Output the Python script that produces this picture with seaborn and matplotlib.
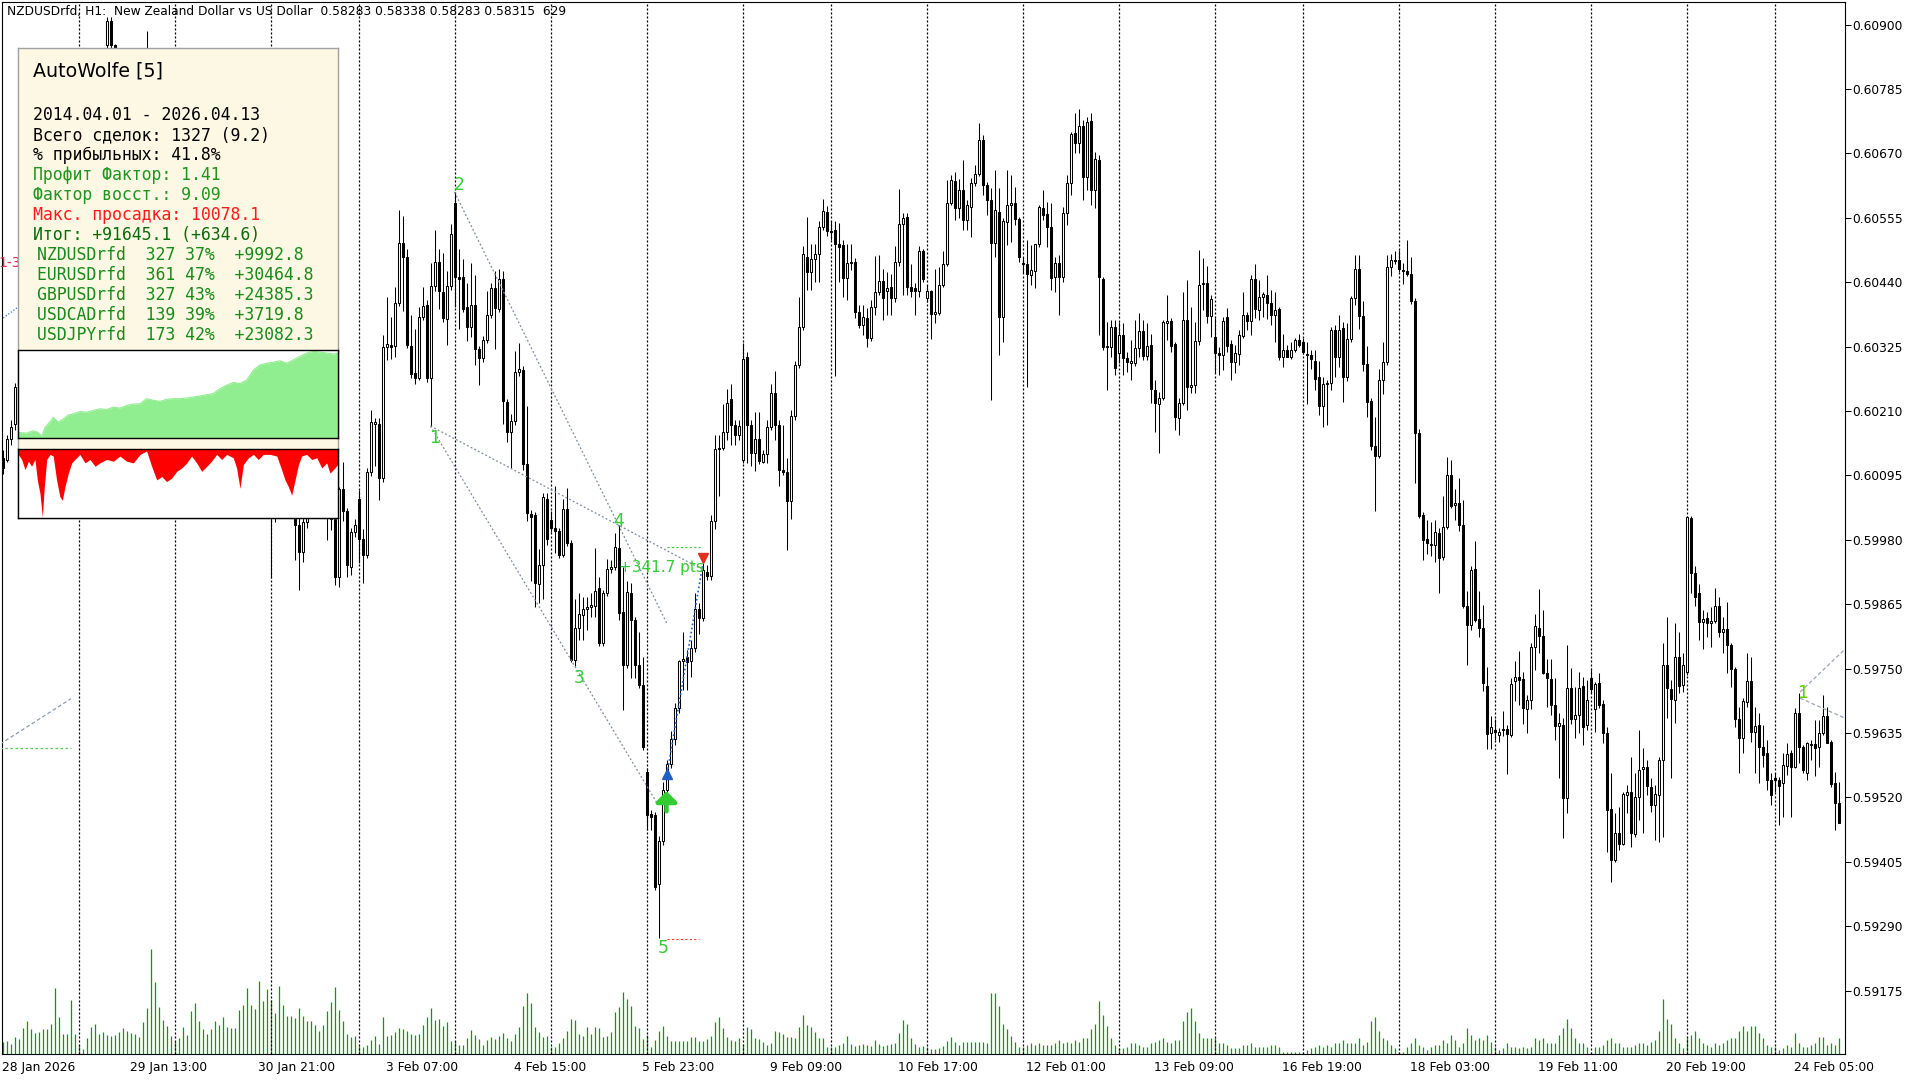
import numpy as np
import pandas as pd
import matplotlib
matplotlib.use("Agg")
import matplotlib.pyplot as plt
import seaborn as sns
from datetime import datetime, timedelta

# ---------------- DATA (prices in points, 1 point = 0.00001) ----------------
open_pts = [
60126,60122,60160,60187,60253,60301,60355,60408,60444,60498,
60533,60515,60569,60605,60640,60658,60631,60676,60712,60694,
60730,60765,60774,60801,60819,60833,60864,60906,60864,60855,
60837,60801,60819,60783,60792,60819,60837,60846,60810,60765,
60730,60694,60712,60658,60623,60587,60605,60551,60498,60515,
60462,60408,60426,60372,60337,60355,60301,60247,60265,60212,
60176,60194,60140,60105,60122,60087,60069,60051,60024,60051,
60069,60060,60087,60051,60006,59958,60012,60033,60051,60060,
60042,60051,60030,60017,59913,60071,60031,59931,59994,60053,
59981,59953,60101,60187,60187,60090,60324,60328,60326,60403,
60510,60485,60326,60278,60269,60378,60399,60269,60433,60476,
60422,60374,60433,60581,60449,60449,60396,60360,60399,60321,
60305,60337,60381,60430,60392,60446,60226,60172,60192,60280,
60283,60115,60026,60024,59901,59935,60053,60015,60001,59996,
59953,60035,59974,59765,59822,59846,59856,59860,59862,59894,
59796,59885,59928,59931,59965,59851,59756,59885,59837,59756,
59721,59565,59490,59488,59365,59442,59533,59580,59624,59680,
59763,59771,59763,59787,59856,59840,59922,59915,60013,60142,
60144,60172,60231,60185,60167,60122,60306,60185,60135,60160,
60119,60133,60181,60242,60185,60105,60101,60049,60201,60292,
60360,60485,60458,60481,60490,60539,60565,60531,60533,60508,
60506,60447,60474,60476,60387,60364,60376,60340,60396,60422,
60442,60424,60431,60412,60476,60544,60556,60431,60430,60424,
60496,60412,60424,60383,60385,60435,60473,60581,60621,60573,
60605,60551,60574,60617,60633,60694,60614,60587,60510,60565,
60378,60548,60578,60581,60553,60474,60473,60453,60460,60508,
60573,60562,60539,60449,60474,60449,60564,60617,60706,60689,
60719,60628,60728,60605,60658,60446,60326,60324,60360,60314,
60346,60305,60296,60296,60322,60353,60308,60328,60247,60222,
60233,60367,60371,60330,60197,60224,60372,60253,60256,60335,
60437,60439,60380,60342,60314,60310,60378,60330,60297,60312,
60344,60381,60371,60446,60390,60414,60417,60403,60381,60392,
60306,60319,60306,60319,60337,60333,60312,60310,60299,60271,
60219,60258,60260,60355,60306,60358,60271,60339,60412,60464,
60380,60294,60228,60147,60130,60265,60297,60467,60480,60480,
60462,60460,60455,60406,60171,60024,59981,59972,59971,59992,
59949,60003,60096,60042,60046,60006,59862,59828,59928,59838,
59822,59719,59635,59640,59631,59640,59642,59631,59728,59735,
59731,59678,59694,59788,59822,59808,59742,59731,59685,59647,
59649,59519,59715,59660,59667,59719,59649,59733,59678,59724,
59687,59635,59499,59408,59456,59437,59524,59529,59454,59521,
59571,59574,59538,59506,59524,59587,59756,59713,59694,59771,
59721,59744,60019,59921,59885,59833,59840,59831,59835,59862,
59815,59821,59792,59749,59660,59626,59690,59728,59637,59649,
59610,59599,59551,59555,59551,59546,59576,59599,59574,59671,
59610,59563,59613,59615,59610,59635,59665,59619,59546,59510]

high_pts = [
60140,60167,60194,60260,60315,60369,60422,60458,60512,60548,
60548,60583,60619,60655,60673,60673,60690,60726,60726,60744,
60780,60789,60815,60833,60844,60855,60914,60914,60865,60855,
60846,60833,60833,60805,60833,60846,60889,60851,60823,60780,
60744,60726,60726,60673,60637,60619,60619,60565,60530,60530,
60476,60440,60440,60387,60369,60369,60315,60280,60280,60226,
60208,60208,60155,60137,60137,60101,60083,60065,60065,60083,
60083,60101,60101,60065,60019,60024,60042,60060,60072,60072,
60065,60060,60042,60024,60074,60119,60037,60001,60017,60069,
59999,60108,60212,60197,60197,60346,60414,60378,60431,60569,
60558,60499,60381,60356,60396,60431,60408,60474,60533,60499,
60492,60460,60544,60601,60499,60481,60439,60474,60453,60326,
60344,60424,60439,60460,60464,60460,60231,60205,60317,60331,
60290,60219,60033,60030,59963,60063,60063,60031,60076,60001,
60053,60072,59980,59874,59885,59878,59878,59885,59965,59913,
59890,59946,59944,59992,60006,59931,59906,59903,59842,59815,
59771,59572,59497,59494,59451,59547,59587,59638,59688,59765,
59815,59783,59801,59885,59867,59939,59935,60024,60167,60167,
60222,60249,60258,60194,60194,60331,60315,60194,60208,60208,
60140,60194,60258,60281,60194,60185,60126,60212,60299,60414,
60505,60556,60508,60508,60549,60589,60576,60549,60549,60546,
60515,60508,60508,60483,60399,60399,60394,60408,60487,60489,
60464,60458,60455,60505,60606,60564,60564,60473,60439,60505,
60499,60435,60426,60464,60467,60496,60623,60631,60637,60624,
60658,60587,60626,60649,60724,60703,60619,60608,60640,60608,
60555,60640,60631,60610,60556,60485,60515,60506,60508,60578,
60605,60583,60581,60485,60489,60574,60631,60708,60742,60749,
60730,60735,60742,60673,60667,60449,60369,60372,60372,60369,
60367,60315,60337,60372,60385,60372,60367,60347,60265,60244,
60372,60417,60376,60333,60233,60422,60444,60396,60369,60498,
60483,60469,60417,60376,60324,60378,60394,60337,60328,60355,
60422,60387,60453,60473,60444,60422,60453,60426,60422,60396,
60347,60328,60333,60340,60347,60340,60333,60319,60319,60299,
60271,60265,60360,60364,60381,60369,60367,60415,60489,60489,
60406,60326,60233,60199,60285,60333,60489,60490,60496,60497,
60474,60515,60485,60412,60178,60030,60015,60012,60015,60001,
60058,60128,60122,60071,60090,60051,59888,59933,59978,59888,
59863,59753,59665,59660,59644,59674,59649,59733,59763,59781,
59744,59703,59796,59847,59892,59855,59767,59767,59733,59671,
59662,59792,59751,59717,59744,59735,59730,59751,59726,59742,
59694,59646,59563,59492,59503,59530,59542,59592,59563,59640,
59608,59587,59555,59542,59592,59796,59842,59730,59831,59815,
59778,60022,60022,59933,59901,59855,59851,59860,59894,59878,
59842,59869,59796,59753,59681,59697,59778,59771,59681,59671,
59649,59622,59563,59563,59556,59599,59617,59605,59680,59706,
59613,59619,59622,59658,59658,59703,59681,59622,59565,59547]

low_pts = [
60097,60119,60149,60176,60239,60287,60340,60394,60430,60483,
60501,60501,60555,60590,60626,60617,60617,60662,60680,60680,
60715,60751,60760,60787,60805,60819,60855,60855,60837,60823,
60787,60787,60769,60769,60780,60805,60823,60792,60751,60715,
60680,60680,60644,60608,60573,60573,60537,60483,60483,60447,
60394,60394,60358,60322,60322,60287,60233,60233,60197,60162,
60162,60126,60090,60090,60072,60055,60037,59912,60012,60037,
60042,60046,60033,59944,59890,59940,60001,60022,60040,60030,
60030,59980,59997,59899,59896,60013,59913,59917,59985,59939,
59903,59947,60094,60112,60051,60083,60301,60303,60306,60397,
60389,60322,60269,60258,60265,60372,60262,60183,60424,60392,
60369,60328,60426,60396,60356,60387,60335,60342,60292,60256,
60297,60331,60376,60321,60387,60187,60155,60108,60185,60272,
60105,60013,59906,59860,59867,59874,59971,59994,59956,59947,
59949,59969,59762,59755,59801,59801,59819,59842,59842,59790,
59790,59880,59921,59926,59837,59676,59751,59733,59733,59715,
59605,59462,59462,59354,59269,59435,59529,59572,59613,59671,
59712,59712,59735,59780,59812,59835,59908,59908,59999,60058,
60140,60158,60149,60149,60158,60117,60117,60112,60103,60115,
60117,60117,60176,60158,60076,60096,59962,60017,60194,60287,
60355,60426,60426,60440,60440,60533,60523,60515,60272,60440,
60414,60408,60462,60376,60358,60346,60324,60335,60381,60417,
60372,60381,60381,60405,60469,60417,60417,60414,60381,60414,
60440,60405,60339,60367,60381,60431,60469,60578,60551,60555,
60533,60533,60521,60612,60630,60596,60560,60230,60485,60310,
60333,60506,60512,60542,60476,60456,60253,60435,60430,60503,
60551,60503,60426,60422,60381,60440,60542,60596,60671,60671,
60587,60605,60578,60573,60346,60319,60247,60306,60274,60296,
60274,60280,60265,60290,60306,60301,60301,60224,60172,60135,
60230,60337,60315,60176,60167,60221,60212,60242,60242,60328,
60390,60367,60342,60278,60274,60283,60315,60265,60278,60292,
60340,60355,60346,60376,60372,60378,60374,60364,60333,60301,
60289,60306,60303,60315,60324,60312,60222,60285,60247,60203,
60181,60185,60247,60271,60289,60226,60264,60333,60399,60356,
60281,60199,60140,60031,60126,60240,60292,60451,60473,60458,
60437,60451,60401,60081,60019,59944,59955,59951,59940,59885,
59944,59999,60037,60015,59996,59858,59756,59819,59833,59806,
59710,59606,59606,59622,59619,59629,59562,59628,59692,59685,
59651,59635,59678,59747,59778,59740,59681,59667,59622,59554,
59447,59492,59651,59626,59635,59613,59640,59706,59637,59680,
59617,59422,59369,59404,59426,59435,59492,59431,59449,59479,
59456,59524,59494,59444,59440,59449,59662,59554,59653,59706,
59708,59738,59885,59862,59801,59785,59806,59788,59831,59806,
59778,59742,59717,59646,59563,59599,59681,59619,59563,59546,
59574,59533,59506,59529,59471,59485,59560,59485,59572,59581,
59563,59551,59587,59558,59574,59631,59617,59538,59462,59474]

close_pts = [
60108,60160,60181,60253,60301,60355,60408,60444,60498,60533,
60515,60569,60605,60640,60658,60631,60676,60712,60694,60730,
60765,60774,60801,60819,60833,60851,60906,60864,60855,60837,
60801,60819,60783,60792,60819,60837,60846,60810,60765,60730,
60694,60712,60658,60623,60587,60605,60551,60498,60515,60462,
60408,60426,60372,60337,60355,60301,60247,60265,60212,60176,
60194,60140,60105,60122,60087,60069,60051,60024,60051,60069,
60060,60087,60051,60006,59958,60012,60033,60051,60060,60042,
60051,60030,60017,59913,60071,60031,59935,59994,60006,59981,
59953,60101,60190,60190,60090,60324,60330,60324,60403,60510,
60485,60328,60276,60269,60378,60397,60269,60433,60476,60424,
60376,60433,60526,60449,60446,60392,60360,60399,60321,60305,
60337,60381,60430,60394,60446,60228,60172,60192,60280,60285,
60115,60028,60021,59903,59935,60056,59981,60001,59996,59953,
60035,59974,59765,59822,59847,59856,59860,59863,59889,59796,
59885,59928,59931,59967,59849,59756,59887,59837,59756,59721,
59610,59488,59485,59360,59442,59533,59580,59624,59680,59763,
59767,59762,59787,59856,59840,59926,59915,60013,60142,60144,
60172,60224,60185,60167,60183,60303,60185,60135,60160,60121,
60133,60181,60242,60185,60105,60101,60049,60201,60292,60360,
60490,60458,60481,60490,60539,60567,60531,60530,60508,60503,
60447,60474,60476,60387,60364,60378,60340,60396,60422,60442,
60412,60430,60412,60476,60544,60555,60431,60424,60424,60496,
60446,60424,60383,60387,60435,60473,60581,60623,60573,60605,
60551,60578,60617,60633,60694,60614,60587,60510,60569,60378,
60549,60578,60581,60553,60485,60473,60455,60462,60508,60574,
60560,60539,60447,60474,60449,60564,60617,60705,60689,60719,
60628,60726,60605,60660,60449,60324,60324,60360,60287,60346,
60305,60297,60299,60322,60353,60308,60326,60249,60224,60233,
60369,60371,60326,60199,60224,60372,60253,60256,60335,60435,
60439,60380,60410,60314,60310,60371,60326,60297,60314,60346,
60381,60371,60446,60392,60414,60419,60403,60381,60390,60306,
60319,60306,60319,60337,60328,60315,60310,60303,60267,60219,
60258,60260,60355,60306,60355,60271,60339,60412,60464,60380,
60294,60226,60147,60130,60265,60297,60467,60480,60478,60464,
60460,60455,60406,60171,60022,59980,59974,59971,59994,59947,
60003,60096,60040,60046,60006,59862,59828,59926,59837,59822,
59724,59633,59646,59637,59637,59642,59633,59722,59735,59730,
59680,59694,59788,59826,59808,59742,59733,59685,59647,59653,
59519,59715,59660,59667,59715,59646,59694,59713,59722,59685,
59635,59497,59408,59456,59437,59526,59529,59456,59521,59569,
59574,59540,59506,59526,59587,59756,59715,59696,59771,59719,
59756,60021,59921,59878,59833,59838,59831,59835,59862,59815,
59821,59792,59749,59660,59626,59692,59728,59637,59647,59610,
59596,59551,59524,59551,59540,59578,59597,59574,59671,59610,
59569,59617,59615,59608,59635,59665,59617,59544,59510,59474]

volume = [
12,13,10,17,15,26,33,25,21,22, 25,25,30,66,37,20,20,54,20,9,
5,16,27,30,20,22,19,18,19,22, 26,23,21,20,17,32,46,105,72,47,
34,28,18,13,16,27,19,43,51,33, 25,20,25,33,29,37,27,26,26,44,
49,66,49,45,73,53,65,54,41,68, 49,38,38,36,46,38,33,33,29,23,
29,43,52,67,44,33,20,17,18,8, 7,9,14,18,10,37,18,19,22,26,
25,23,20,19,20,29,37,46,34,35, 28,32,13,13,9,9,16,24,19,15,
9,14,17,15,18,21,16,13,20,27, 48,61,51,27,22,17,18,7,7,11,
16,23,35,34,20,18,27,20,27,26, 17,18,22,42,47,62,55,48,28,26,
15,19,7,14,23,28,18,13,13,13, 13,13,17,17,13,13,15,18,32,37,
26,17,14,13,16,10,27,25,16,15, 12,9,11,23,22,20,17,17,16,27,
39,29,27,22,16,16,7,7,7,9, 11,18,10,8,9,10,9,8,14,10,
8,9,10,11,21,34,30,16,10,7, 8,7,5,5,6,8,13,17,12,9,
12,12,12,12,12,12,11,61,61,48, 30,25,18,12,7,7,9,11,9,11,
9,9,9,11,14,11,12,11,14,12, 16,16,25,30,53,39,28,16,9,6,
6,7,11,11,9,7,7,11,12,14, 16,12,11,14,14,33,42,46,33,21,
16,16,16,16,11,11,9,6,6,6, 9,9,11,7,7,7,7,9,9,7,
2,2,2,2,2,2,4,6,7,9, 7,9,7,11,11,14,11,11,11,16,
9,12,33,37,23,16,14,9,6,2, 2,7,11,16,9,7,4,7,9,9,
14,11,19,14,7,11,26,19,14,16, 14,19,12,7,4,6,11,7,7,6,
7,6,7,16,14,16,11,11,11,19, 26,35,26,16,11,11,7,2,7,7,
9,14,16,11,11,7,7,7,9,11, 11,9,12,14,23,55,35,30,16,11,
6,16,19,23,16,11,9,7,11,9, 11,14,16,16,23,28,23,28,28,21,
16,9,7,7,4,6,9,7,21,11, 7,7,9,11,17,17,9,11,9,16]

price_ticks = [0.59175, 0.59290, 0.59405, 0.59520, 0.59635, 0.59750, 0.59865, 0.59980,
               0.60095, 0.60210, 0.60325, 0.60440, 0.60555, 0.60670, 0.60785, 0.60900]
first_bar_time = datetime(2026, 1, 28, 5)
header = "NZDUSDrfd, H1:  New Zealand Dollar vs US Dollar  0.58283 0.58338 0.58283 0.58315  629"

# Wolfe wave points (bar index, price)
wolfe_bars = [107, 113, 143, 154, 164]
wolfe_prices = [0.60183, 0.60601, 0.59755, 0.60006, 0.59269]
wolfe_labels = ["1", "2", "3", "4", "5"]
wolfe_label_bars = [108.1, 114.1, 144.1, 154.1, 165.1]
wolfe_label_prices = [0.60162, 0.60613, 0.59733, 0.60013, 0.59251]
trade_entry_bar, trade_entry_price = 166, 0.59556
trade_exit_bar, trade_exit_price = 175, 0.59933
target_price, stop_price = 0.59967, 0.59267
result_text = "+341.7 pts"

# equity / drawdown of the backtest (trade number, account value)
equity_trade = [0,35,62,83,97,111,132,145,166,187,208,229,256,284,312,339,367,395,422,450,
                478,506,533,561,589,616,644,672,700,727,755,783,810,838,866,893,921,949,977,1004,
                1032,1060,1087,1115,1143,1170,1198,1226,1254,1281,1309,1327]
equity_value = [6188,5460,8008,6188,1820,11648,17836,22568,17108,20748,25116,26208,28756,28028,
                29848,31668,30940,33488,32396,35308,36764,37128,42588,40768,39676,41860,42588,
                42588,43316,44408,45500,46956,48048,53508,57148,60060,58968,62608,73528,78988,
                80808,81900,83356,80808,84448,88088,91728,93548,92820,91728,90636,91645]
dd_trade = [0,14,28,42,55,69,79,90,100,107,118,132,145,159,173,183,194,208,222,235,256,277,298,
            319,339,367,395,422,450,478,506,533,554,575,596,616,637,658,679,700,720,741,762,783,
            803,824,845,866,893,907,921,935,956,977,997,1018,1046,1074,1094,1108,1122,1136,1150,
            1164,1177,1198,1219,1240,1261,1281,1295,1309,1327]
dd_value = [850,1600,3100,1850,2600,1600,4600,6600,10078,6100,1600,850,1100,4600,7100,7600,5600,
            3600,2100,1600,850,2100,1600,2600,2100,1600,1850,1100,1850,2100,850,350,2600,4600,
            4100,4850,4350,3350,2850,2100,1100,2100,3350,2600,1850,850,1600,850,1350,2850,5850,
            2350,1350,850,1600,850,850,1100,3100,4600,5600,6850,4600,2350,1100,850,1600,1350,
            2850,2100,3600,3100,2350]

stat_lines = ["2014.04.01 - 2026.04.13", "Всего сделок: 1327 (9.2)", "% прибыльных: 41.8%",
              "Профит Фактор: 1.41", "Фактор восст.: 9.09", "Макс. просадка: 10078.1",
              "Итог: +91645.1 (+634.6)"]
stat_colors = ["black", "black", "black", "#1f951f", "#1f951f", "#ff1a1a", "#0b6b0b"]
table_symbols = ["NZDUSDrfd", "EURUSDrfd", "GBPUSDrfd", "USDCADrfd", "USDJPYrfd"]
table_trades = [327, 361, 327, 139, 173]
table_winpct = [37, 47, 43, 39, 42]
table_profit = [9992.8, 30464.8, 24385.3, 3719.8, 23082.3]

# ---------------- PREP ----------------
df = pd.DataFrame({"open": np.array(open_pts) / 1e5, "high": np.array(high_pts) / 1e5,
                   "low": np.array(low_pts) / 1e5, "close": np.array(close_pts) / 1e5,
                   "volume": volume})
df["high"] = df[["open", "high", "low", "close"]].max(axis=1)
df["low"] = df[["open", "high", "low", "close"]].min(axis=1)
n = len(df)
xb = np.arange(n)

times = []
t = first_bar_time
while len(times) < n:
    if t.weekday() < 5 and not (t.weekday() == 0 and t.hour < 2):
        times.append(t)
    t += timedelta(hours=1)
df["time"] = times
day_starts = [i for i in range(1, n) if times[i].date() != times[i - 1].date()]

# ---------------- FIGURE ----------------
sns.set_style("white")
plt.rcParams["font.family"] = ["DejaVu Sans"]
W, H = 1920, 1080
fig = plt.figure(figsize=(19.2, 10.8), dpi=100, facecolor="white")


def rect(x0, y0, x1, y1):
    return [x0 / W, 1 - y1 / H, (x1 - x0) / W, (y1 - y0) / H]


XMIN, XMAX = -0.125, 460.625
YMIN, YMAX = 0.5906162, 0.6094018
main_rect = rect(2, 2, 1845, 1054)

vax = fig.add_axes(main_rect, zorder=1)
vax.vlines(xb, 0, df["volume"], color="#0c9a0c", lw=0.9)
vax.set_xlim(XMIN, XMAX)
vax.set_ylim(0, 1052)
vax.axis("off")

ax = fig.add_axes(main_rect, zorder=2)
ax.patch.set_alpha(0)
ax.set_xlim(XMIN, XMAX)
ax.set_ylim(YMIN, YMAX)

ax.vlines(day_starts, YMIN, YMAX, colors="black", linestyles=[(0, (1.6, 1.6))], lw=0.9, zorder=1)

up = df["close"] >= df["open"]
ax.vlines(xb, df["low"], df["high"], color="black", lw=0.75, zorder=2)
ax.bar(xb, (df["close"] - df["open"]).abs(), bottom=np.minimum(df["open"], df["close"]),
       width=0.5, color=np.where(up, "white", "black").tolist(), edgecolor="black",
       linewidth=0.75, zorder=3)

# Wolfe lines
wl = dict(color="#7d8aa3", lw=0.9, ls=(0, (1.5, 1.8)), zorder=4)
b1, b2, b3, b4, b5 = wolfe_bars
p1, p2, p3, p4, p5 = wolfe_prices
s13 = (p3 - p1) / (b3 - b1)
s24 = (p4 - p2) / (b4 - b2)
s14 = (p4 - p1) / (b4 - b1)
sns.lineplot(x=[b1, 163.6], y=[p1, p1 + s13 * (163.6 - b1)], ax=ax, **wl)
sns.lineplot(x=[b2, 166.1], y=[p2, p2 + s24 * (166.1 - b2)], ax=ax, **wl)
sns.lineplot(x=[b1, 175.0], y=[p1, p1 + s14 * (175.0 - b1)], ax=ax, **wl)
for lab, lb, lp in zip(wolfe_labels, wolfe_label_bars, wolfe_label_prices):
    ax.text(lb, lp, lab, color="#33cc33", fontsize=12.5, ha="center", va="center", zorder=6)

ax.plot([166, 174.4], [target_price, target_price], color="#33cc33", lw=0.8, ls=(0, (2, 2)), zorder=4)
ax.plot([166, 174.2], [stop_price, stop_price], color="#ff3030", lw=0.8, ls=(0, (2, 2)), zorder=4)
ax.plot([trade_entry_bar, trade_exit_bar], [trade_entry_price, trade_exit_price],
        color="#1e64c8", lw=1.2, ls=(0, (1, 1.5)), zorder=5)
ax.annotate("", xy=(166, 0.59536), xytext=(166, 0.59490),
            arrowprops=dict(arrowstyle="-|>,head_width=0.45,head_length=0.45", color="#33cc33",
                            lw=3.2, mutation_scale=14), zorder=6)
ax.plot([166], [0.59562], marker="^", ms=7, color="#1f5fbf", zorder=6)
ax.plot([175], [0.59948], marker="v", ms=7, color="#e03020", zorder=6)
ax.text(154.1, 0.59931, result_text, color="#33cc33", fontsize=11, ha="left", va="center", zorder=6)

# leftovers of neighbouring patterns
ax.plot([-0.6, 17.1], [0.59615, 0.59696], color="#8d99ae", lw=0.9, ls=(0, (3, 2)), zorder=4)
ax.plot([-0.6, 17.1], [0.59608, 0.59608], color="#55cc55", lw=0.9, ls=(0, (2, 2)), zorder=4)
ax.plot([0.2, 3.6], [0.60376, 0.60394], color="#3070d0", lw=0.9, ls=(0, (1, 1.5)), zorder=4)
ax.text(-1.0, 0.60474, "1-3", color="#ee2255", fontsize=10, ha="left", va="center", zorder=6)
ax.plot([449.4, 462], [0.59708, 0.59794], color="#9aa3b5", lw=0.9, ls=(0, (3, 2)), zorder=4)
ax.plot([449.4, 462], [0.59697, 0.59657], color="#9aa3b5", lw=0.9, ls=(0, (3, 2)), zorder=4)
ax.text(450.1, 0.59706, "1", color="#66cc00", fontsize=12.5, ha="center", va="center", zorder=6)

# axes styling
for s in ax.spines.values():
    s.set_color("black")
    s.set_linewidth(0.8)
ax.yaxis.tick_right()
ax.set_yticks(price_ticks)
ax.set_yticklabels([f"{v:.5f}" for v in price_ticks])
ax.tick_params(axis="y", which="both", left=False, right=True, direction="out", length=4,
               width=0.75, pad=1.2, labelsize=8.8, colors="black")
xt = list(range(0, n, 32))
xl = [f"{times[0].day} {times[0].strftime('%b %Y')}"] + \
     [f"{times[i].day} {times[i].strftime('%b %H:%M')}" for i in xt[1:]]
ax.set_xticks(xt)
ax.set_xticklabels(xl, ha="left")
ax.tick_params(axis="x", direction="out", length=3, width=0.75, pad=2, labelsize=8.8, colors="black")
ax.set_xlabel("")
ax.set_ylabel("")
ax.grid(False)

fig.text(7 / W, 1 - 12 / H, header, fontsize=8.8, ha="left", va="center", color="black", zorder=10)

# ---------------- INFO BOX ----------------
box = fig.add_axes(rect(18.3, 48.3, 337.7, 517.6), zorder=5)
box.set_facecolor("#fdf8e4")
box.set_xlim(18.3, 337.7)
box.set_ylim(517.6, 48.3)
box.set_xticks([])
box.set_yticks([])
for s in box.spines.values():
    s.set_color("#a0a0a0")
    s.set_linewidth(1.0)
box.text(33, 71, "AutoWolfe [5]", fontsize=13.7, ha="left", va="center", color="black")
mono = ["DejaVu Sans Mono"]
for k, (line, col) in enumerate(zip(stat_lines, stat_colors)):
    box.text(33, 115.5 + 19.93 * k, line, fontsize=11.9, family=mono, ha="left", va="center", color=col)
for k, (sym, ntr, wp, pr) in enumerate(zip(table_symbols, table_trades, table_winpct, table_profit)):
    row = f"{sym:<9}  {ntr:>3} {wp}%  {pr:+.1f}"
    box.text(37, 115.5 + 19.93 * (7 + k), row, fontsize=11.9, family=mono, ha="left", va="center",
             color="#1a8a1a")

eq_ax = fig.add_axes(rect(18.3, 349.7, 337.7, 438.2), zorder=6)
eq_ax.set_facecolor("white")
eq_ax.fill_between(equity_trade, 0, equity_value, color="#90ee90", lw=0)
sns.lineplot(x=equity_trade, y=equity_value, ax=eq_ax, color="#90ee90", lw=0.8)
eq_ax.set_xlim(0, 1327)
eq_ax.set_ylim(0, 95368)
eq_ax.set_xticks([])
eq_ax.set_yticks([])
eq_ax.set_xlabel("")
eq_ax.set_ylabel("")

dd_ax = fig.add_axes(rect(18.3, 448.6, 337.7, 517.6), zorder=6)
dd_ax.set_facecolor("white")
dd_ax.fill_between(dd_trade, -np.array(dd_value), 0, color="#ff0000", lw=0)
dd_ax.set_xlim(0, 1327)
dd_ax.set_ylim(-10150, 0)
dd_ax.set_xticks([])
dd_ax.set_yticks([])
for a in (eq_ax, dd_ax):
    for s in a.spines.values():
        s.set_color("black")
        s.set_linewidth(1.0)

fig.savefig("out.png", dpi=100, facecolor="white")
